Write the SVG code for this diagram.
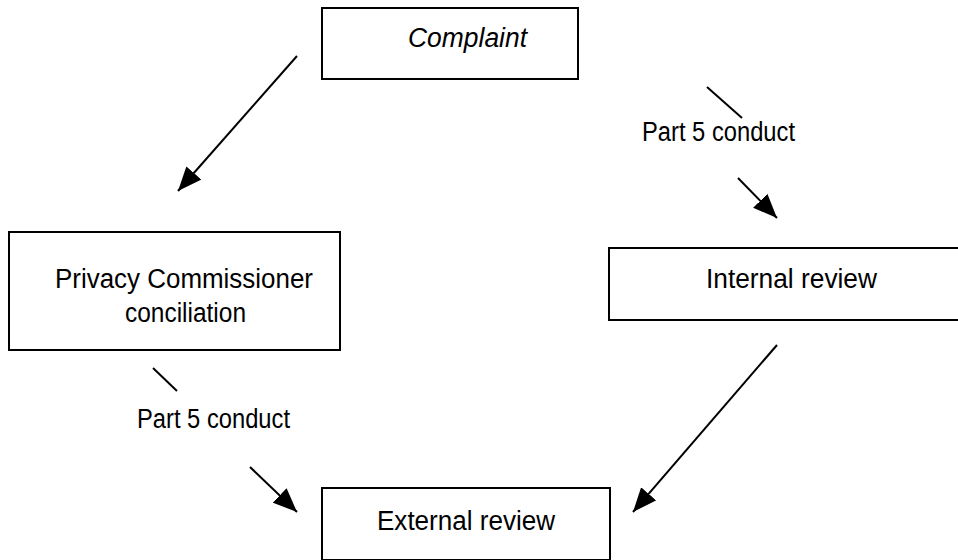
<svg xmlns="http://www.w3.org/2000/svg" width="958" height="560" viewBox="0 0 958 560">
<style>
.box{fill:#fff;stroke:#000;stroke-width:2}
.t{font-family:"Liberation Sans",Arial,sans-serif;font-size:27px;fill:#000}
.c{stroke:#000;stroke-width:2;fill:none}
</style>
<defs>
<marker id="ah" markerUnits="userSpaceOnUse" markerWidth="24" markerHeight="20" refX="24" refY="10" orient="auto" viewBox="0 0 24 20">
<path d="M0,0 L24,10 L0,20 z" fill="#000"/>
</marker>
</defs>
<rect width="958" height="560" fill="#fff"/>
<g id="connectors">
<line class="c" x1="297" y1="56" x2="178" y2="191" marker-end="url(#ah)"/>
<line class="c" x1="707" y1="87" x2="742" y2="118"/>
<line class="c" x1="738" y1="178" x2="777" y2="218" marker-end="url(#ah)"/>
<line class="c" x1="777" y1="345" x2="633" y2="512" marker-end="url(#ah)"/>
<line class="c" x1="153" y1="368" x2="177" y2="391"/>
<line class="c" x1="250" y1="467" x2="297" y2="512" marker-end="url(#ah)"/>
<text class="t" x="642" y="141" textLength="153" lengthAdjust="spacingAndGlyphs">Part 5 conduct</text>
<text class="t" x="137" y="428" textLength="153" lengthAdjust="spacingAndGlyphs">Part 5 conduct</text>
</g>
<g id="complaint">
<rect class="box" x="322" y="8" width="256" height="71"/>
<text class="t" x="408" y="47" font-style="italic" textLength="119" lengthAdjust="spacingAndGlyphs">Complaint</text>
</g>
<g id="privacy">
<rect class="box" x="9" y="232" width="331" height="118"/>
<text class="t" x="55" y="288" textLength="258" lengthAdjust="spacingAndGlyphs">Privacy Commissioner</text>
<text class="t" x="125" y="322" textLength="121" lengthAdjust="spacingAndGlyphs">conciliation</text>
</g>
<g id="internal">
<rect class="box" x="609" y="248" width="360" height="72"/>
<text class="t" x="706" y="288" textLength="171" lengthAdjust="spacingAndGlyphs">Internal review</text>
</g>
<g id="external">
<rect class="box" x="322" y="488" width="288" height="72"/>
<text class="t" x="377" y="530" textLength="178" lengthAdjust="spacingAndGlyphs">External review</text>
</g>
</svg>
